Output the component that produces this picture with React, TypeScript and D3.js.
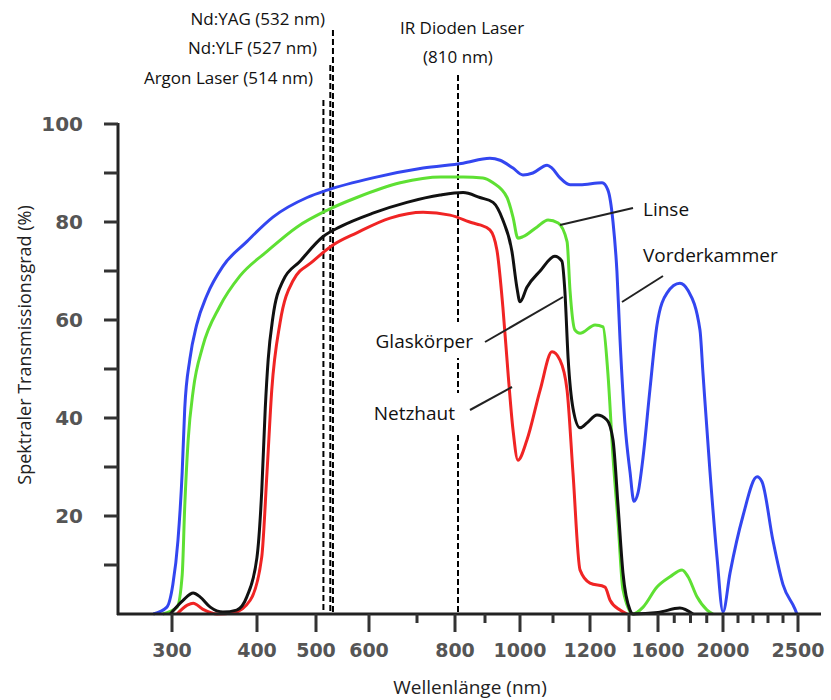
import React from 'react';
import * as d3 from 'd3';

// [Wellenlänge nm, Transmission %]
const vorderkammer: [number, number][] = [
  [278, 0], [294, 1.4], [301, 6], [307, 15], [312, 29], [315, 42], [321, 52], [329, 59],
  [341, 65], [360, 71], [388, 76], [427, 81], [485, 85], [521, 86.5], [608, 89], [716, 91],
  [827, 92], [914, 93], [943, 92.6], [980, 91], [1009, 89.6], [1039, 90], [1082, 91.6],
  [1097, 91], [1119, 89], [1146, 87.6], [1173, 87.6], [1262, 88], [1292, 86.5], [1318, 80],
  [1338, 70], [1354, 56], [1379, 39], [1407, 29], [1434, 23], [1462, 24.7], [1497, 32],
  [1545, 46], [1593, 59], [1655, 65.5], [1735, 67.5], [1785, 66], [1858, 58], [1877, 49],
  [1920, 29], [1963, 11.6], [2000, 0.4], [2047, 8.4], [2133, 20], [2227, 28], [2260, 27],
  [2333, 15], [2400, 6], [2480, 1], [2493, 0],
];

const linse: [number, number][] = [
  [289, 0], [306, 1.4], [312, 8], [315, 22], [319, 35.5], [325, 45.7], [336, 54.5],
  [356, 62.7], [380, 69], [417, 74], [468, 79], [521, 82.4], [577, 85], [665, 88],
  [763, 89.2], [827, 89.2], [893, 89], [923, 88], [963, 85], [980, 81], [994, 76.7],
  [1009, 77], [1052, 79], [1085, 80.4], [1114, 79.8], [1138, 76], [1146, 66], [1159, 58],
  [1173, 57.3], [1226, 59], [1267, 58.6], [1292, 49], [1318, 32], [1344, 18.6], [1369, 5],
  [1428, 0], [1497, 1.4], [1593, 5.5], [1674, 7.6], [1748, 9], [1785, 7.6], [1840, 3.5],
  [1902, 0.8], [1938, 0],
];

const glaskoerper: [number, number][] = [
  [298, 0], [313, 2.8], [325, 4.3], [333, 3.5], [345, 1.4], [360, 0.4], [376, 0.8],
  [388, 3.5], [400, 11.6], [408, 25], [414, 42], [419, 52], [427, 60.6], [444, 68],
  [473, 72], [513, 77], [545, 79], [608, 81.8], [679, 84], [761, 85.5], [827, 86],
  [883, 85], [923, 84], [951, 80.4], [977, 74], [991, 66.7], [1000, 63.7], [1021, 66.7],
  [1061, 70], [1105, 73], [1124, 72], [1132, 66], [1141, 52], [1154, 42], [1173, 38],
  [1192, 39], [1236, 40.6], [1287, 39.6], [1318, 35.5], [1344, 22], [1369, 8.4],
  [1407, 0.8], [1428, 0], [1600, 0.3], [1735, 1.2], [1815, 0],
];

const netzhaut: [number, number][] = [
  [306, 0], [318, 1.8], [325, 2.2], [336, 1], [353, 0], [372, 0.2], [392, 2.8],
  [408, 11.6], [417, 29], [425, 45.7], [439, 59.4], [461, 68], [495, 72], [532, 75.3],
  [577, 77.8], [644, 80.8], [716, 82], [787, 81.4], [860, 79.8], [883, 79.4], [914, 78.4],
  [934, 74.3], [951, 62.7], [966, 49], [980, 37.6], [994, 31.4], [1021, 35.5], [1061, 45.7],
  [1097, 53.5], [1119, 51.8], [1138, 45.7], [1154, 28.8], [1173, 9], [1200, 6.3],
  [1277, 5.5], [1303, 2.8], [1354, 0.8], [1390, 0],
];

const xLabelTicks = [300, 400, 500, 600, 800, 1000, 1200, 1600, 2000, 2500];
const xLongTicks = [300, 400, 500, 600, 800, 1000, 1200, 1400, 1600, 2000, 2500];
const xShortTicks = [700, 900, 1100, 1700, 1800, 1900, 2100, 2200, 2300, 2400];
const yTicks = [10, 20, 30, 40, 50, 60, 70, 80, 90, 100];
const yLabelTicks = [20, 40, 60, 80, 100];

const laserLines = [514, 527, 532, 810];

const series = [
  { name: 'Vorderkammer', data: vorderkammer, color: '#3346f0' },
  { name: 'Linse', data: linse, color: '#5ee033' },
  { name: 'Netzhaut', data: netzhaut, color: '#f02424' },
  { name: 'Glaskörper', data: glaskoerper, color: '#111111' },
];

export default function App() {
  // the source axis is hand drawn, so the tick spacing is not regular
  const x = d3
    .scaleLinear()
    .domain([300, 400, 500, 600, 700, 800, 900, 1000, 1100, 1200, 1400, 1600, 2000, 2500])
    .range([172, 257, 316, 369, 417, 455, 485, 520, 553, 590, 629, 658, 723, 798]);
  const y = d3.scaleLinear().domain([0, 100]).range([614, 124]);

  const line = d3
    .line<[number, number]>()
    .x((d) => x(d[0]))
    .y((d) => y(d[1]))
    .curve(d3.curveMonotoneX);

  const laserTop: Record<number, number> = { 514: 100, 527: 65, 532: 30, 810: 75 };
  const axisFont = 'DejaVu Sans, Verdana, sans-serif';
  const textFont = '"Open Sans", "Noto Sans", sans-serif';

  return (
    <svg
      width={831}
      height={700}
      style={{ position: 'absolute', left: 0, top: 0, background: '#fff' }}
    >
      {/* laser wavelengths */}
      {laserLines.map((nm) => (
        <line
          key={`l-${nm}`}
          x1={x(nm)}
          x2={x(nm)}
          y1={laserTop[nm]}
          y2={y(0)}
          stroke="#000"
          strokeWidth={2}
          strokeDasharray="6 3"
        />
      ))}

      {/* curves */}
      {series.map((s) => (
        <path
          key={s.name}
          d={line(s.data) || ''}
          fill="none"
          stroke={s.color}
          strokeWidth={3}
          strokeLinejoin="round"
        />
      ))}

      {/* axes */}
      <line x1={118} x2={118} y1={123} y2={615} stroke="#222" strokeWidth={3} />
      <line x1={117} x2={821} y1={614} y2={614} stroke="#222" strokeWidth={3} />
      {yTicks.map((t) => (
        <line key={`yt-${t}`} x1={104} x2={118} y1={y(t)} y2={y(t)} stroke="#333" strokeWidth={3} />
      ))}
      {yLabelTicks.map((t) => (
        <text
          key={`yl-${t}`}
          x={83}
          y={y(t)}
          dy="0.36em"
          textAnchor="end"
          fontFamily={axisFont}
          fontWeight="bold"
          fontSize={20}
          fill="#555"
        >
          {t}
        </text>
      ))}
      {xLongTicks.map((t) => (
        <line key={`xt-${t}`} x1={x(t)} x2={x(t)} y1={614} y2={632} stroke="#333" strokeWidth={3} />
      ))}
      {xShortTicks.map((t) => (
        <line key={`xs-${t}`} x1={x(t)} x2={x(t)} y1={614} y2={623} stroke="#333" strokeWidth={3} />
      ))}
      {xLabelTicks.map((t) => (
        <text
          key={`xl-${t}`}
          x={x(t)}
          y={657}
          textAnchor="middle"
          fontFamily={axisFont}
          fontWeight="bold"
          fontSize={19}
          fill="#555"
        >
          {t}
        </text>
      ))}

      <text
        x={470}
        y={694}
        textAnchor="middle"
        fontFamily={textFont}
        fontSize={19}
        fill="#222"
      >
        Wellenlänge (nm)
      </text>
      <text
        transform="translate(31,345) rotate(-90)"
        textAnchor="middle"
        fontFamily={textFont}
        fontSize={18}
        fill="#222"
      >
        Spektraler Transmissionsgrad (%)
      </text>

      {/* laser labels */}
      <g fontFamily={textFont} fontSize={17} fill="#111">
        <text x={325} y={25} textAnchor="end">Nd:YAG (532 nm)</text>
        <text x={317} y={54} textAnchor="end">Nd:YLF (527 nm)</text>
        <text x={313} y={84} textAnchor="end">Argon Laser (514 nm)</text>
        <text x={462} y={34} textAnchor="middle">IR Dioden Laser</text>
        <text x={458} y={63} textAnchor="middle">(810 nm)</text>
      </g>

      {/* curve labels */}
      <rect x={366} y={322} width={112} height={36} fill="#fff" />
      <rect x={366} y={393} width={102} height={39} fill="#fff" />
      <g stroke="#222" strokeWidth={2}>
        <line x1={633} y1={208} x2={560} y2={225} />
        <line x1={663} y1={276} x2={622} y2={302} />
        <line x1={485} y1={342} x2={563} y2={297} />
        <line x1={470} y1={410} x2={512} y2={387} />
      </g>
      <g fontFamily={textFont} fontSize={19} fill="#111">
        <text x={643} y={216}>Linse</text>
        <text x={643} y={262}>Vorderkammer</text>
        <text x={473} y={348} textAnchor="end">Glaskörper</text>
        <text x={455} y={420} textAnchor="end">Netzhaut</text>
      </g>
    </svg>
  );
}
